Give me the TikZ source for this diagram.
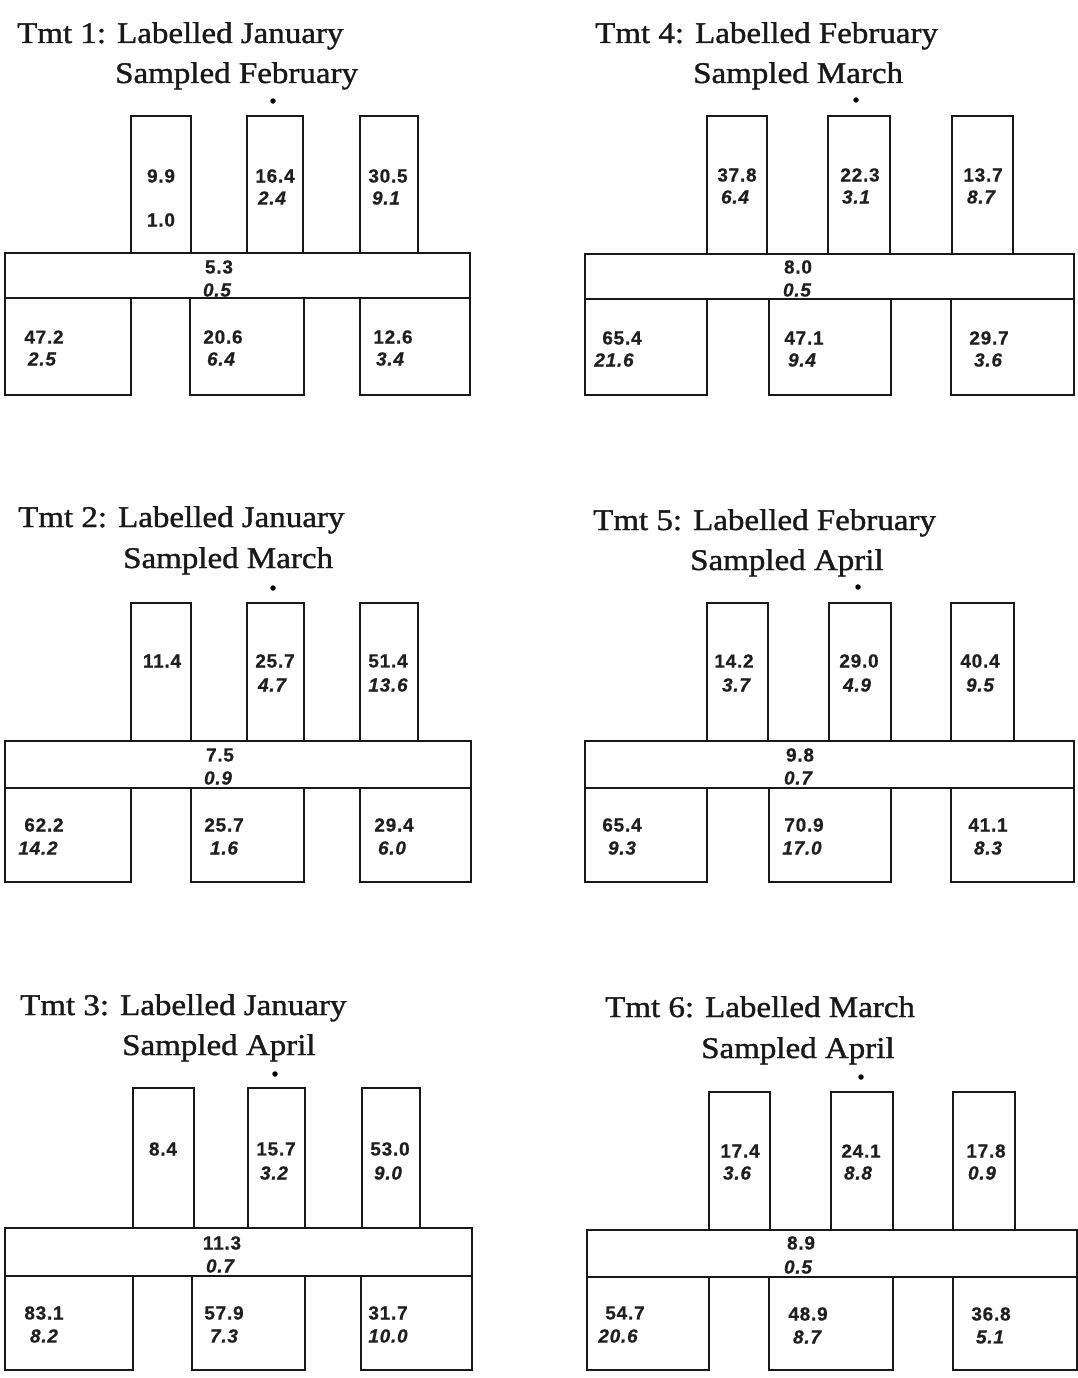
\documentclass[tikz,border=0pt]{standalone}
\usepackage{fontspec}
\newfontfamily\ttlfont[FakeStretch=1.1,FakeBold=1.2]{Liberation Serif}
\newfontfamily\numfam[LetterSpace=4,FakeBold=0.6]{Liberation Sans}
\begin{document}
\begin{tikzpicture}[x=1pt,y=-1pt,
  box/.style={draw=black!90, line width=2.5pt, line join=miter},
  ttl/.style={font=\ttlfont\fontsize{30}{34}\selectfont, anchor=base west, inner sep=0pt, text=black!90},
  nu/.style={font=\numfam\bfseries\fontsize{19}{22}\selectfont, inner sep=0pt, text=black!88},
  ni/.style={font=\numfam\bfseries\itshape\fontsize{19}{22}\selectfont, inner sep=0pt, text=black!88},
  dotm/.style={fill=black, circle, inner sep=0pt, minimum size=5.5pt}]
\useasboundingbox[fill=white] (0,0) rectangle (1078,1378);

% ---------- Panel 1 ----------
\node[ttl] (t1a) at (17,43) {Tmt 1: Labelled January};
\node[ttl] (t1b) at (115,83) {Sampled February};
\node[dotm] (d1) at (273,101) {};
\draw[box] (5,253) rectangle (470,298);
\draw[box] (131,116) rectangle (191,253);
\draw[box] (247,116) rectangle (303,253);
\draw[box] (360,116) rectangle (418,253);
\draw[box] (5,298) rectangle (131,395);
\draw[box] (190,298) rectangle (304,395);
\draw[box] (360,298) rectangle (470,395);
\node[nu] (p1a) at (161,176) {9.9};
\node[nu] (p1b) at (161,220) {1.0};
\node[nu] (p1c) at (275,176) {16.4};
\node[ni] (p1d) at (272,198) {2.4};
\node[nu] (p1e) at (388,176) {30.5};
\node[ni] (p1f) at (386,198) {9.1};
\node[nu] (p1g) at (219,267) {5.3};
\node[ni] (p1h) at (217,290) {0.5};
\node[nu] (p1i) at (44,337) {47.2};
\node[ni] (p1j) at (42,359) {2.5};
\node[nu] (p1k) at (223,337) {20.6};
\node[ni] (p1l) at (221,359) {6.4};
\node[nu] (p1m) at (393,337) {12.6};
\node[ni] (p1n) at (390,359) {3.4};

% ---------- Panel 4 ----------
\node[ttl] (t4a) at (595,43) {Tmt 4: Labelled February};
\node[ttl] (t4b) at (693,83) {Sampled March};
\node[dotm] (d4) at (856,100) {};
\draw[box] (585,254) rectangle (1074,299);
\draw[box] (707,116) rectangle (767,254);
\draw[box] (828,116) rectangle (890,254);
\draw[box] (952,116) rectangle (1013,254);
\draw[box] (585,299) rectangle (707,395);
\draw[box] (769,299) rectangle (891,395);
\draw[box] (951,299) rectangle (1074,395);
\node[nu] (p4a) at (737,175) {37.8};
\node[ni] (p4b) at (735,197) {6.4};
\node[nu] (p4c) at (860,175) {22.3};
\node[ni] (p4d) at (856,197) {3.1};
\node[nu] (p4e) at (983,175) {13.7};
\node[ni] (p4f) at (981,197) {8.7};
\node[nu] (p4g) at (798,267) {8.0};
\node[ni] (p4h) at (797,290) {0.5};
\node[nu] (p4i) at (622,338) {65.4};
\node[ni] (p4j) at (614,360) {21.6};
\node[nu] (p4k) at (804,338) {47.1};
\node[ni] (p4l) at (802,360) {9.4};
\node[nu] (p4m) at (989,338) {29.7};
\node[ni] (p4n) at (988,360) {3.6};

% ---------- Panel 2 ----------
\node[ttl] (t2a) at (18,527) {Tmt 2: Labelled January};
\node[ttl] (t2b) at (123,568) {Sampled March};
\node[dotm] (d2) at (273,588) {};
\draw[box] (5,741) rectangle (471,788);
\draw[box] (131,603) rectangle (191,741);
\draw[box] (247,603) rectangle (304,741);
\draw[box] (360,603) rectangle (418,741);
\draw[box] (5,788) rectangle (131,882);
\draw[box] (191,788) rectangle (304,882);
\draw[box] (360,788) rectangle (471,882);
\node[nu] (p2a) at (162,661) {11.4};
\node[nu] (p2c) at (275,661) {25.7};
\node[ni] (p2d) at (272,685) {4.7};
\node[nu] (p2e) at (388,661) {51.4};
\node[ni] (p2f) at (388,685) {13.6};
\node[nu] (p2g) at (220,755) {7.5};
\node[ni] (p2h) at (218,778) {0.9};
\node[nu] (p2i) at (44,825) {62.2};
\node[ni] (p2j) at (38,848) {14.2};
\node[nu] (p2k) at (224,825) {25.7};
\node[ni] (p2l) at (224,848) {1.6};
\node[nu] (p2m) at (394,825) {29.4};
\node[ni] (p2n) at (392,848) {6.0};

% ---------- Panel 5 ----------
\node[ttl] (t5a) at (593,530) {Tmt 5: Labelled February};
\node[ttl] (t5b) at (690,570) {Sampled April};
\node[dotm] (d5) at (858,587) {};
\draw[box] (585,741) rectangle (1074,788);
\draw[box] (707,603) rectangle (768,741);
\draw[box] (829,603) rectangle (891,741);
\draw[box] (951,603) rectangle (1014,741);
\draw[box] (585,788) rectangle (707,882);
\draw[box] (769,788) rectangle (891,882);
\draw[box] (951,788) rectangle (1074,882);
\node[nu] (p5a) at (734,661) {14.2};
\node[ni] (p5b) at (736,685) {3.7};
\node[nu] (p5c) at (859,661) {29.0};
\node[ni] (p5d) at (857,685) {4.9};
\node[nu] (p5e) at (980,661) {40.4};
\node[ni] (p5f) at (980,685) {9.5};
\node[nu] (p5g) at (800,755) {9.8};
\node[ni] (p5h) at (798,778) {0.7};
\node[nu] (p5i) at (622,825) {65.4};
\node[ni] (p5j) at (622,848) {9.3};
\node[nu] (p5k) at (804,825) {70.9};
\node[ni] (p5l) at (802,848) {17.0};
\node[nu] (p5m) at (988,825) {41.1};
\node[ni] (p5n) at (988,848) {8.3};

% ---------- Panel 3 ----------
\node[ttl] (t3a) at (20,1015) {Tmt 3: Labelled January};
\node[ttl] (t3b) at (122,1055) {Sampled April};
\node[dotm] (d3) at (275,1074) {};
\draw[box] (5,1228) rectangle (472,1276);
\draw[box] (133,1088) rectangle (194,1228);
\draw[box] (248,1088) rectangle (305,1228);
\draw[box] (362,1088) rectangle (420,1228);
\draw[box] (5,1276) rectangle (133,1370);
\draw[box] (192,1276) rectangle (305,1370);
\draw[box] (361,1276) rectangle (472,1370);
\node[nu] (p3a) at (163,1149) {8.4};
\node[nu] (p3c) at (276,1149) {15.7};
\node[ni] (p3d) at (274,1173) {3.2};
\node[nu] (p3e) at (390,1149) {53.0};
\node[ni] (p3f) at (388,1173) {9.0};
\node[nu] (p3g) at (222,1243) {11.3};
\node[ni] (p3h) at (220,1266) {0.7};
\node[nu] (p3i) at (44,1313) {83.1};
\node[ni] (p3j) at (44,1336) {8.2};
\node[nu] (p3k) at (224,1313) {57.9};
\node[ni] (p3l) at (224,1336) {7.3};
\node[nu] (p3m) at (388,1313) {31.7};
\node[ni] (p3n) at (388,1336) {10.0};

% ---------- Panel 6 ----------
\node[ttl] (t6a) at (605,1017) {Tmt 6: Labelled March};
\node[ttl] (t6b) at (701,1058) {Sampled April};
\node[dotm] (d6) at (861,1077) {};
\draw[box] (587,1230) rectangle (1077,1277);
\draw[box] (709,1092) rectangle (770,1230);
\draw[box] (831,1092) rectangle (893,1230);
\draw[box] (953,1092) rectangle (1015,1230);
\draw[box] (587,1277) rectangle (709,1370);
\draw[box] (769,1277) rectangle (893,1370);
\draw[box] (953,1277) rectangle (1077,1370);
\node[nu] (p6a) at (740,1151) {17.4};
\node[ni] (p6b) at (737,1173) {3.6};
\node[nu] (p6c) at (861,1151) {24.1};
\node[ni] (p6d) at (858,1173) {8.8};
\node[nu] (p6e) at (986,1151) {17.8};
\node[ni] (p6f) at (982,1173) {0.9};
\node[nu] (p6g) at (801,1243) {8.9};
\node[ni] (p6h) at (798,1267) {0.5};
\node[nu] (p6i) at (625,1313) {54.7};
\node[ni] (p6j) at (618,1336) {20.6};
\node[nu] (p6k) at (808,1314) {48.9};
\node[ni] (p6l) at (807,1337) {8.7};
\node[nu] (p6m) at (991,1314) {36.8};
\node[ni] (p6n) at (990,1337) {5.1};
\end{tikzpicture}
\end{document}
